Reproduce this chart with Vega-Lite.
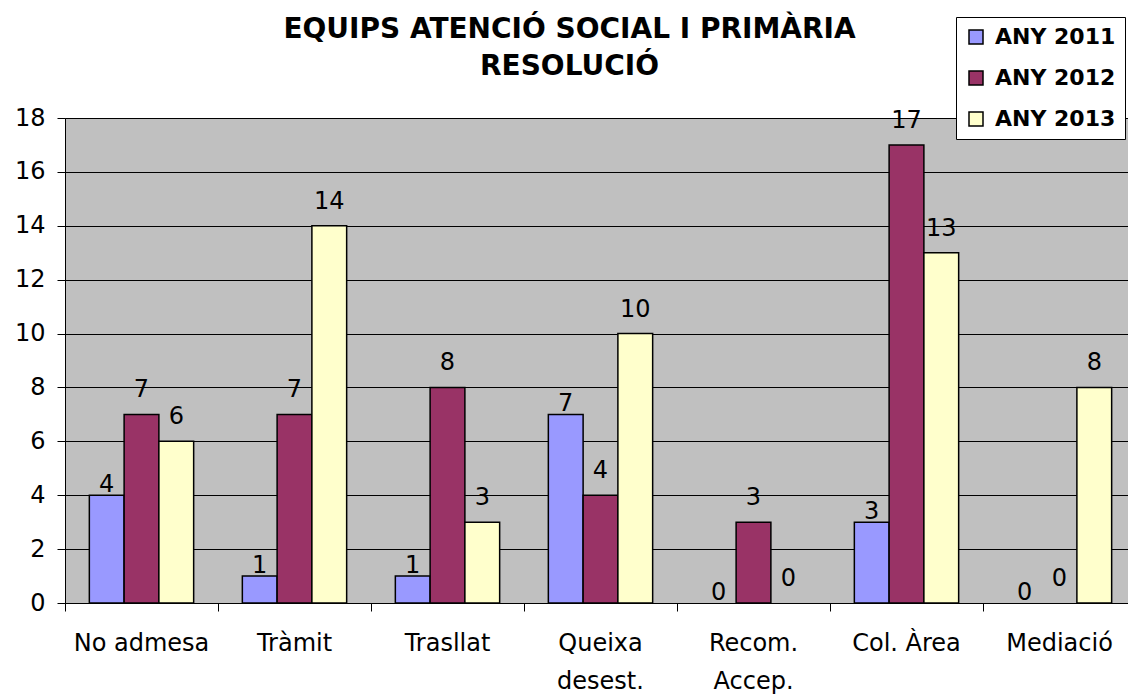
{
  "$schema": "https://vega.github.io/schema/vega-lite/v6.json",
  "width": 1071,
  "height": 485,
  "autosize": {"type": "none"},
  "padding": {"left": 65, "top": 118, "right": -8, "bottom": 97},
  "background": "white",
  "title": {
    "text": ["EQUIPS ATENCIÓ SOCIAL I PRIMÀRIA", "RESOLUCIÓ"],
    "font": "DejaVu Sans",
    "fontWeight": "bold",
    "fontSize": 28,
    "color": "black",
    "anchor": "middle",
    "baseline": "bottom",
    "lineHeight": 37,
    "offset": -92,
    "dx": -31
  },
  "data": {
    "values": [
      {"cat": "No admesa", "year": "ANY 2011", "v": 4},
      {"cat": "No admesa", "year": "ANY 2012", "v": 7},
      {"cat": "No admesa", "year": "ANY 2013", "v": 6},
      {"cat": "Tràmit", "year": "ANY 2011", "v": 1},
      {"cat": "Tràmit", "year": "ANY 2012", "v": 7},
      {"cat": "Tràmit", "year": "ANY 2013", "v": 14},
      {"cat": "Trasllat", "year": "ANY 2011", "v": 1},
      {"cat": "Trasllat", "year": "ANY 2012", "v": 8},
      {"cat": "Trasllat", "year": "ANY 2013", "v": 3},
      {"cat": "Queixa desest.", "year": "ANY 2011", "v": 7},
      {"cat": "Queixa desest.", "year": "ANY 2012", "v": 4},
      {"cat": "Queixa desest.", "year": "ANY 2013", "v": 10},
      {"cat": "Recom. Accep.", "year": "ANY 2011", "v": 0},
      {"cat": "Recom. Accep.", "year": "ANY 2012", "v": 3},
      {"cat": "Recom. Accep.", "year": "ANY 2013", "v": 0},
      {"cat": "Col. Àrea", "year": "ANY 2011", "v": 3},
      {"cat": "Col. Àrea", "year": "ANY 2012", "v": 17},
      {"cat": "Col. Àrea", "year": "ANY 2013", "v": 13},
      {"cat": "Mediació", "year": "ANY 2011", "v": 0},
      {"cat": "Mediació", "year": "ANY 2012", "v": 0},
      {"cat": "Mediació", "year": "ANY 2013", "v": 8}
    ]
  },
  "encoding": {
    "x": {
      "field": "cat",
      "type": "nominal",
      "sort": null,
      "scale": {"paddingInner": 0, "paddingOuter": 0},
      "axis": {
        "title": null,
        "labelAngle": 0,
        "labelFont": "DejaVu Sans",
        "labelFontSize": 24,
        "labelColor": "black",
        "labelPadding": 20,
        "labelLineHeight": 38,
        "labelExpr": "datum.label == 'Queixa desest.' ? ['Queixa', 'desest.'] : datum.label == 'Recom. Accep.' ? ['Recom.', 'Accep.'] : datum.label",
        "bandPosition": 0,
        "domainColor": "black",
        "tickColor": "black",
        "tickSize": 8,
        "grid": false
      }
    },
    "xOffset": {
      "field": "year",
      "type": "nominal",
      "scale": {"paddingOuter": 0.7, "paddingInner": 0}
    },
    "y": {
      "field": "v",
      "type": "quantitative",
      "scale": {"domain": [0, 18], "nice": false},
      "axis": {
        "title": null,
        "values": [0, 2, 4, 6, 8, 10, 12, 14, 16, 18],
        "labelFont": "DejaVu Sans",
        "labelFontSize": 24,
        "labelColor": "black",
        "labelPadding": 12,
        "domainColor": "black",
        "tickColor": "black",
        "tickSize": 8,
        "grid": true,
        "gridColor": "black",
        "gridOpacity": 1,
        "gridWidth": 1
      }
    }
  },
  "layer": [
    {
      "transform": [{"filter": "datum.v > 0"}],
      "mark": {"type": "bar", "stroke": "black", "strokeWidth": 1.5},
      "encoding": {
        "color": {
          "field": "year",
          "type": "nominal",
          "scale": {"domain": ["ANY 2011", "ANY 2012", "ANY 2013"], "range": ["#9999FF", "#993366", "#FFFFCC"]},
          "legend": {
            "title": null,
            "orient": "none",
            "legendX": 891,
            "legendY": -101,
            "padding": 9,
            "strokeColor": "black",
            "fillColor": "white",
            "labelFont": "DejaVu Sans",
            "labelFontWeight": "bold",
            "labelFontSize": 22,
            "labelColor": "black",
            "symbolType": "square",
            "symbolSize": 196,
            "symbolStrokeColor": "black",
            "symbolStrokeWidth": 1.5,
            "symbolOpacity": 1,
            "rowPadding": 19,
            "labelOffset": 8
          }
        }
      }
    },
    {
      "transform": [{"filter": "datum.year == 'ANY 2011'"}],
      "mark": {"type": "text", "font": "DejaVu Sans", "fontSize": 24, "color": "black", "baseline": "alphabetic", "dy": -3},
      "encoding": {"text": {"field": "v", "type": "quantitative"}}
    },
    {
      "transform": [{"filter": "datum.year != 'ANY 2011'"}],
      "mark": {"type": "text", "font": "DejaVu Sans", "fontSize": 24, "color": "black", "baseline": "alphabetic", "dy": -17},
      "encoding": {"text": {"field": "v", "type": "quantitative"}}
    }
  ],
  "config": {
    "view": {"fill": "#C0C0C0", "stroke": "#808080", "strokeWidth": 1}
  }
}
